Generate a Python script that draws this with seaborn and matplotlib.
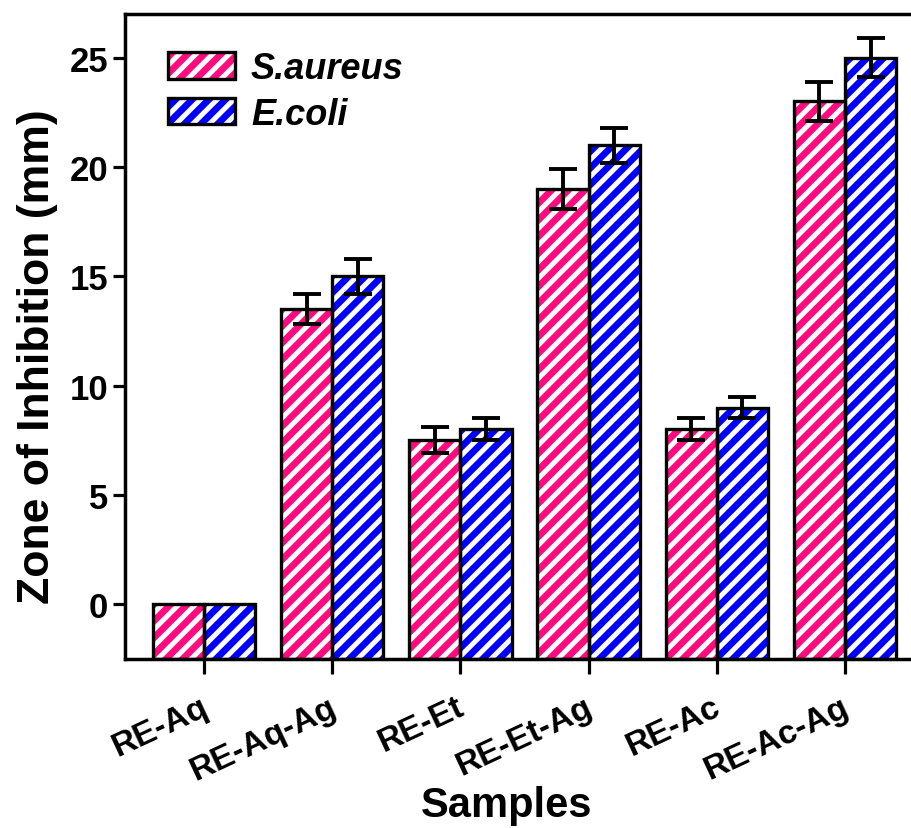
import matplotlib
matplotlib.use("Agg")
import matplotlib.pyplot as plt
from matplotlib.patches import Rectangle
from matplotlib.legend_handler import HandlerTuple
from matplotlib.transforms import ScaledTranslation
import seaborn as sns
import pandas as pd
import numpy as np

samples = ["RE-Aq", "RE-Aq-Ag", "RE-Et", "RE-Et-Ag", "RE-Ac", "RE-Ac-Ag"]
organisms = ["S.aureus", "E.coli"]
s_aureus = [0, 13.5, 7.5, 19, 8, 23]
e_coli = [0, 15, 8, 21, 9, 25]
s_aureus_err = [0, 0.7, 0.6, 0.9, 0.5, 0.9]
e_coli_err = [0, 0.8, 0.5, 0.8, 0.5, 0.9]
colors = ["#FF0A7F", "#0000FF"]

df = pd.DataFrame({
    "Sample": samples * 2,
    "Zone": s_aureus + e_coli,
    "Organism": [organisms[0]] * 6 + [organisms[1]] * 6,
    "Err": s_aureus_err + e_coli_err,
})

sns.set_theme(style="white")
plt.rcParams["font.family"] = ["Liberation Sans", "DejaVu Sans"]
plt.rcParams["font.weight"] = "bold"
plt.rcParams["hatch.linewidth"] = 3.6
for k in ["text.color", "axes.labelcolor", "xtick.color", "ytick.color"]:
    plt.rcParams[k] = "black"

fig = plt.figure(figsize=(9.11, 8.29), dpi=100)
ax = fig.add_axes([125 / 911, 169 / 829, 799 / 911, 645 / 829])

sns.barplot(data=df, x="Sample", y="Zone", hue="Organism", order=samples,
            hue_order=organisms, palette=colors, saturation=1, width=0.8,
            errorbar=None, legend=False, ax=ax)

ymin, ymax = -2.5, 27
ax.set_ylim(ymin, ymax)
ax.set_xlim(-0.616, 5.616)

bars = list(ax.patches)
for p in bars:
    top = p.get_y() + p.get_height()
    p.set_y(ymin)
    p.set_height(top - ymin)
    p.set_edgecolor("white")
    p.set_linewidth(0)
    p.set_hatch("//")
    ax.add_patch(Rectangle((p.get_x(), ymin), p.get_width(), top - ymin,
                           fill=False, edgecolor="black", linewidth=2.4, zorder=3))

# error bars
for i, p in enumerate(bars):
    err = df["Err"].iloc[i]
    if err > 0:
        ax.errorbar(p.get_x() + p.get_width() / 2, df["Zone"].iloc[i], yerr=err,
                    fmt="none", ecolor="black", elinewidth=2.8, capsize=10,
                    capthick=2.8, zorder=4)

for s in ax.spines.values():
    s.set_linewidth(2.5)
    s.set_color("black")

ax.set_yticks([0, 5, 10, 15, 20, 25])
ax.tick_params(axis="y", direction="out", length=8.5, width=2.3, pad=3.5,
               labelsize=25, left=True, colors="black")
ax.tick_params(axis="x", direction="out", length=11, width=2.3, pad=12,
               labelsize=24, bottom=True, colors="black")
offset = ScaledTranslation(-4 / 100, 0, fig.dpi_scale_trans)
for lbl in ax.get_xticklabels():
    lbl.set_rotation(25)
    lbl.set_ha("right")
    lbl.set_rotation_mode("anchor")
    lbl.set_fontweight("bold")
    lbl.set_transform(lbl.get_transform() + offset)
for lbl in ax.get_yticklabels():
    lbl.set_fontweight("bold")

ax.set_ylabel("Zone of Inhibition (mm)", fontsize=32, fontweight="bold")
ax.set_xlabel("Samples", fontsize=30, fontweight="bold")
ax.yaxis.set_label_coords(-0.084, 0.47)
ax.xaxis.set_label_coords(0.477, -0.196)

handles = []
for c in colors:
    h1 = Rectangle((0, 0), 1, 1, facecolor=c, edgecolor="white", linewidth=0, hatch="//")
    h2 = Rectangle((0, 0), 1, 1, fill=False, edgecolor="black", linewidth=2.4)
    handles.append((h1, h2))
leg = ax.legend(handles, organisms, handler_map={tuple: HandlerTuple(ndivide=1)},
                loc="upper left", bbox_to_anchor=(43 / 799, 1 - 37 / 645),
                frameon=False, borderpad=0, borderaxespad=0,
                handlelength=1.85, handleheight=0.75, handletextpad=0.45,
                labelspacing=0.3, prop={"size": 26, "weight": "bold", "style": "italic"})

fig.savefig("out.png", dpi=100)
